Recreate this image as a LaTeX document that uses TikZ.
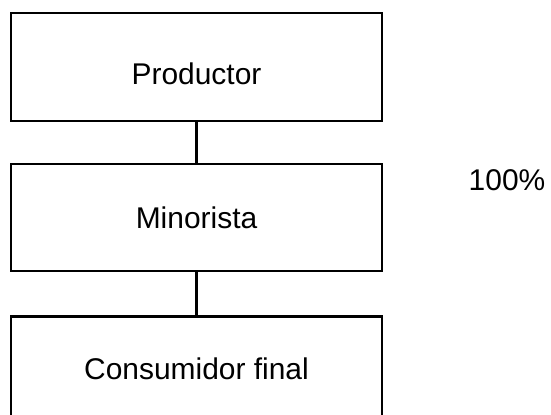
\documentclass[tikz,border=0pt]{standalone}
\usepackage{fontspec}
\setmainfont{Liberation Sans}
\usetikzlibrary{positioning}
\tikzset{
  stage/.style={draw, line width=1.6pt, minimum width=9.275cm, inner sep=0pt, font=\fontsize{21.3}{25.6}\selectfont},
  share/.style={font=\fontsize{21.3}{25.6}\selectfont, inner sep=0pt},
  link/.style={line width=1.6pt}
}
\begin{document}
\begin{tikzpicture}[x=0.025cm, y=-0.025cm]
  \useasboundingbox (0,0) rectangle (551,414);
  \clip (0,0) rectangle (551,414);

  % Channel stages
  \node[stage, minimum height=2.7cm, text height=0.89cm] (prod) at (196.5,67) {Productor};
  \node[stage, minimum height=2.675cm, below=1.025cm of prod] (mino) {Minorista};
  \node[stage, minimum height=2.6cm, below=1.075cm of mino] (cons) {Consumidor final};

  % Links between stages
  \draw[link] (prod) -- (mino);
  \draw[link] (mino) -- (cons);

  % Share
  \node[share] (pct) at (507,180) {100\%};
\end{tikzpicture}
\end{document}
